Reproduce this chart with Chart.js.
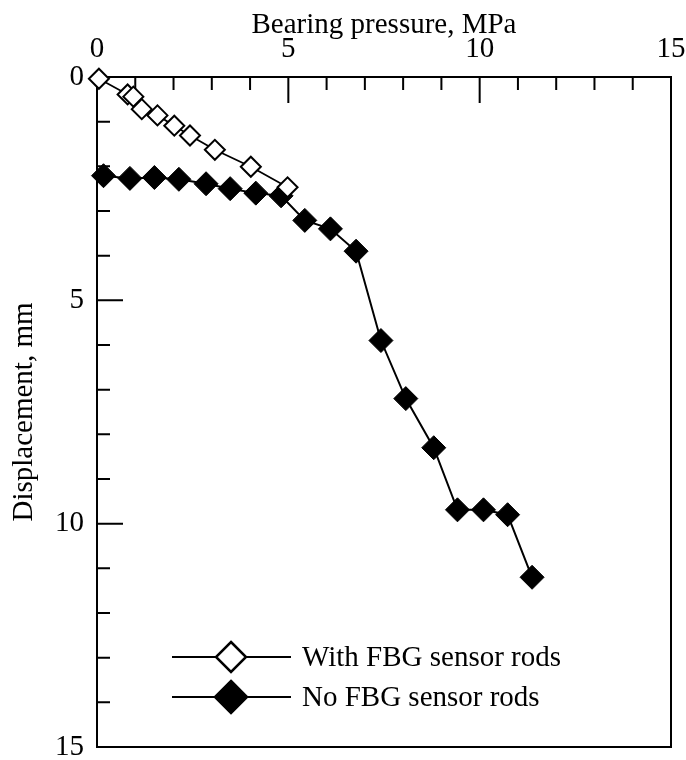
<!DOCTYPE html>
<html>
<head>
<meta charset="utf-8">
<script src="https://cdn.jsdelivr.net/npm/chart.js@4/dist/chart.umd.min.js"></script>
<style>
  html, body { margin: 0; padding: 0; background: #fff; }
  #wrap { width: 686px; height: 760px; }
</style>
</head>
<body>
<div id="wrap"><canvas id="chart" width="686" height="760"></canvas></div>
<script>
// Bearing pressure (MPa) vs displacement (mm)
const withFbgPressure = [0.05, 0.80, 0.95, 1.17, 1.58, 2.02, 2.43, 3.08, 4.02, 4.98];
const withFbgDisp     = [0.04, 0.39, 0.44, 0.72, 0.86, 1.09, 1.31, 1.63, 2.01, 2.47];

const noFbgPressure = [0.17, 0.86, 1.50, 2.14, 2.85, 3.48, 4.15, 4.81, 5.43, 6.10, 6.77,
                       7.42, 8.07, 8.80, 9.42, 10.10, 10.73, 11.37];
const noFbgDisp     = [2.21, 2.27, 2.25, 2.29, 2.39, 2.50, 2.60, 2.66, 3.21, 3.40, 3.90,
                       5.90, 7.20, 8.30, 9.69, 9.69, 9.80, 11.20];

const seriesLabels = ['With FBG sensor rods', 'No FBG sensor rods'];
const xTitle = 'Bearing pressure, MPa';
const yTitle = 'Displacement, mm';
const axisMax = 15;
const majorStep = 5;
const minorStep = 1;

const FONT = { family: "'Liberation Serif', 'Times New Roman', serif", size: 29 };

const toPoints = (xs, ys) => xs.map((x, i) => ({ x, y: ys[i] }));

function diamond(ctx, x, y, r, filled, lw) {
  ctx.beginPath();
  ctx.moveTo(x, y - r);
  ctx.lineTo(x + r, y);
  ctx.lineTo(x, y + r);
  ctx.lineTo(x - r, y);
  ctx.closePath();
  ctx.fillStyle = filled ? '#000' : '#fff';
  ctx.fill();
  ctx.lineWidth = lw;
  ctx.strokeStyle = '#000';
  ctx.stroke();
}

// box round the plot + inward ticks on top and left
const framePlugin = {
  id: 'frame',
  beforeDatasetsDraw(chart) {
    const { ctx, chartArea: a, scales: { x, y } } = chart;
    ctx.save();
    ctx.strokeStyle = '#000';
    ctx.lineWidth = 2;
    ctx.strokeRect(a.left, a.top, a.right - a.left, a.bottom - a.top);
    ctx.beginPath();
    for (let v = minorStep; v < axisMax; v += minorStep) {
      const len = v % majorStep === 0 ? 26 : 13;
      const px = x.getPixelForValue(v);
      ctx.moveTo(px, a.top);
      ctx.lineTo(px, a.top + len);
      const py = y.getPixelForValue(v);
      ctx.moveTo(a.left, py);
      ctx.lineTo(a.left + len, py);
    }
    ctx.stroke();
    ctx.restore();
  }
};

// legend inside the plot, line through marker like the original
const legendPlugin = {
  id: 'insideLegend',
  afterDraw(chart) {
    const { ctx } = chart;
    const rows = [
      { y: 657, r: 15, filled: false },
      { y: 697, r: 16, filled: true }
    ];
    ctx.save();
    ctx.font = `${FONT.size}px ${FONT.family}`;
    ctx.textBaseline = 'middle';
    ctx.textAlign = 'left';
    rows.forEach((row, i) => {
      ctx.strokeStyle = '#000';
      ctx.lineWidth = 2;
      ctx.beginPath();
      ctx.moveTo(172, row.y);
      ctx.lineTo(291, row.y);
      ctx.stroke();
      diamond(ctx, 231, row.y, row.r, row.filled, 2.5);
      ctx.fillStyle = '#000';
      ctx.fillText(chart.data.datasets[i].label, 302, row.y + 1);
    });
    ctx.restore();
  }
};

new Chart(document.getElementById('chart'), {
  type: 'scatter',
  data: {
    datasets: [
      {
        label: seriesLabels[0],
        data: toPoints(withFbgPressure, withFbgDisp),
        showLine: true,
        borderColor: '#000',
        borderWidth: 1.8,
        pointStyle: 'rectRot',
        pointRadius: 10,
        pointBorderWidth: 2,
        pointBackgroundColor: '#fff',
        pointBorderColor: '#000',
        clip: false
      },
      {
        label: seriesLabels[1],
        data: toPoints(noFbgPressure, noFbgDisp),
        showLine: true,
        borderColor: '#000',
        borderWidth: 2,
        pointStyle: 'rectRot',
        pointRadius: 12,
        pointBorderWidth: 1,
        pointBackgroundColor: '#000',
        pointBorderColor: '#000',
        clip: false
      }
    ]
  },
  options: {
    responsive: false,
    animation: false,
    layout: { padding: { left: 0, right: 15, top: 0, bottom: 12 } },
    plugins: { legend: { display: false }, tooltip: { enabled: false } },
    scales: {
      x: {
        type: 'linear',
        position: 'top',
        min: 0,
        max: axisMax,
        ticks: { stepSize: majorStep, color: '#000', font: FONT, padding: 10, maxRotation: 0 },
        grid: { display: false, drawTicks: false },
        border: { display: false },
        title: { display: true, text: xTitle, color: '#000', font: FONT, padding: { top: 8, bottom: 0 } },
        afterFit(s) { s.height = 77; s.paddingLeft = 0; s.paddingRight = 0; }
      },
      y: {
        type: 'linear',
        reverse: true,
        min: 0,
        max: axisMax,
        ticks: { stepSize: majorStep, color: '#000', font: FONT, padding: 13 },
        grid: { display: false, drawTicks: false },
        border: { display: false },
        title: { display: true, text: yTitle, color: '#000', font: FONT, padding: { top: 7, bottom: 0 } },
        afterFit(s) { s.width = 97; s.paddingTop = 0; s.paddingBottom = 0; }
      }
    }
  },
  plugins: [framePlugin, legendPlugin]
});
</script>
</body>
</html>
